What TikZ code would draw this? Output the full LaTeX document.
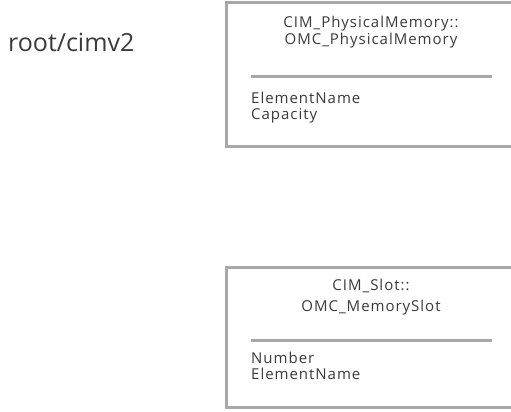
\documentclass[tikz,border=0pt]{standalone}
\usepackage{fontspec}
\setsansfont{Open Sans}[LetterSpace=6.5]
\newfontfamily\nsfont{Open Sans}
\usepackage{tikz}
\definecolor{framegray}{RGB}{168,168,168}
\definecolor{textgray}{RGB}{58,58,58}
\tikzset{frame/.style={draw=framegray,line width=3pt},
  label/.style={font=\sffamily\fontsize{15}{18}\selectfont,text=textgray,inner sep=0pt}}
\begin{document}
\begin{tikzpicture}[x=1pt,y=-1pt]
        \useasboundingbox (0,0) rectangle (511,412);
        \node[anchor=base west,inner sep=0pt,text=textgray,font=\nsfont\fontsize{25}{30}\selectfont] (ns) at (8,52) {root/cimv2};
        %Class frames, cut off at the right side, with the line under the names.
        \foreach \t/\b/\s in {3/146/76, 267/407/340}
        {
        \draw[frame] (511,\t) -- (226,\t) -- (226,\b) -- (511,\b);
        \draw[frame] (251,\s) -- (492,\s);
        }
        \node[label,anchor=base] (memcim) at (371,28) {CIM\_PhysicalMemory::};
        \node[label,anchor=base] (memomc) at (371,44.5) {OMC\_PhysicalMemory};
        \node[label,anchor=base west] (memname) at (251,103) {ElementName};
        \node[label,anchor=base west] (memcap) at (251,119) {Capacity};
        \node[label,anchor=base] (slotcim) at (371,290) {CIM\_Slot::};
        \node[label,anchor=base] (slotomc) at (371,311) {OMC\_MemorySlot};
        \node[label,anchor=base west] (slotnum) at (251,363) {Number};
        \node[label,anchor=base west] (slotname) at (251,379) {ElementName};
\end{tikzpicture}
\end{document}
